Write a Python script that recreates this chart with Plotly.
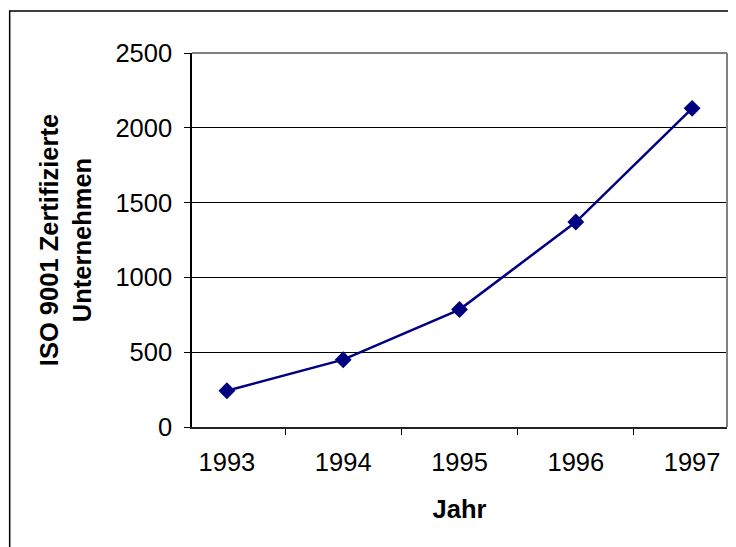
import plotly.graph_objects as go

years = ["1993", "1994", "1995", "1996", "1997"]
companies = [242, 450, 785, 1370, 2130]
y_ticks = [0, 500, 1000, 1500, 2000, 2500]

FONT = "Liberation Sans, Arial, sans-serif"

# page body adds an 8px offset; figure sized so plot area lands where the reference has it
W, H = 728, 539
L, T = 184, 45
PW = 719.5 - L
PH = 419 - T

fig = go.Figure()
fig.add_trace(go.Scatter(
    x=years, y=companies, mode="lines+markers",
    line=dict(color="#000080", width=2.5),
    marker=dict(symbol="diamond", size=13, color="#000080"),
    cliponaxis=False, showlegend=False,
))

fig.update_layout(
    width=W, height=H,
    margin=dict(l=L, r=W - 719.5, t=T, b=H - 419, autoexpand=False),
    paper_bgcolor="white", plot_bgcolor="white",
    font=dict(family=FONT, size=25.5, color="black"),
    xaxis=dict(
        type="category", tickson="boundaries", ticks="outside", ticklen=6,
        tickcolor="black", showline=True, linecolor="#222222", linewidth=1.5,
        showgrid=False, ticklabelstandoff=12,
        title=dict(text="<b>Jahr</b>", standoff=25, font=dict(size=25.5)),
        automargin=False,
    ),
    yaxis=dict(
        range=[0, 2500], tickvals=y_ticks, ticks="outside", ticklen=6,
        tickcolor="black", showline=True, linecolor="black", linewidth=1.5,
        showgrid=True, gridcolor="#000000", gridwidth=1, zeroline=False,
        ticklabelstandoff=7,
        title=dict(text="<b>ISO 9001 Zertifizierte<br>Unternehmen</b>", standoff=16,
                   font=dict(size=25.5)),
        automargin=False,
    ),
    shapes=[
        dict(type="line", xref="paper", yref="paper", x0=0, x1=1, y0=1, y1=1,
             line=dict(color="#808080", width=2), layer="above"),
        dict(type="line", xref="paper", yref="paper", x0=1, x1=1, y0=0, y1=1,
             line=dict(color="#808080", width=2), layer="above"),
        dict(type="rect", xref="paper", yref="paper",
             x0=(1.5 - L) / PW, x1=1.3,
             y0=-0.5, y1=(419 - 3) / PH,
             line=dict(color="black", width=1.5),
             fillcolor="rgba(0,0,0,0)", layer="below"),
    ],
)

fig.write_html("out.html")
